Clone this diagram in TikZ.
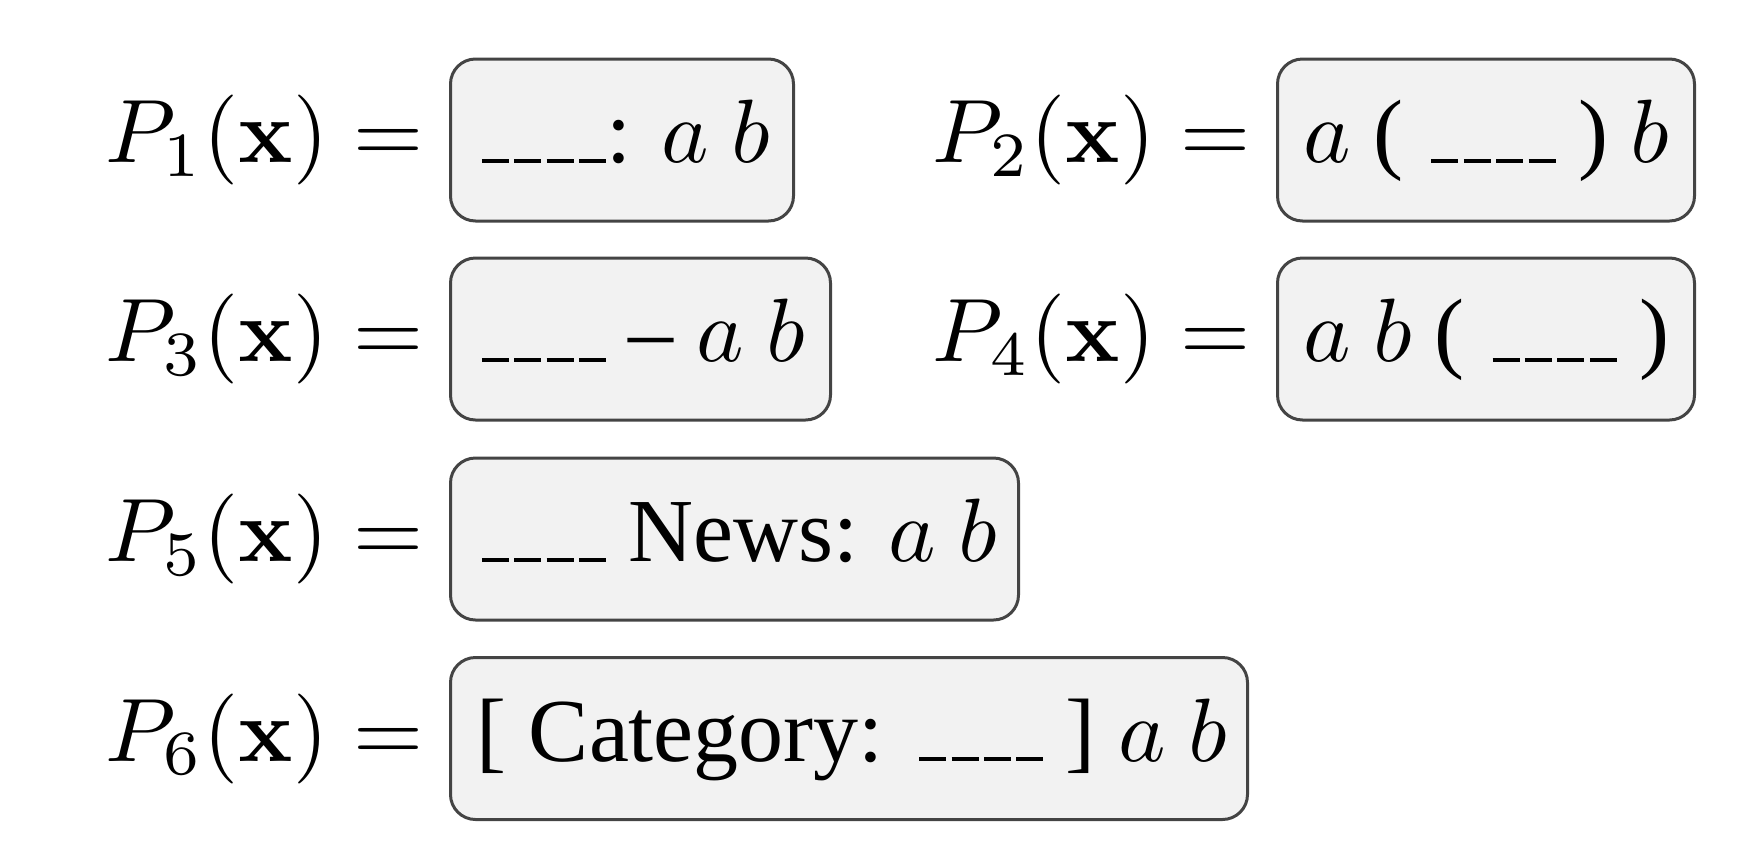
\documentclass[tikz,border=0pt]{standalone}
\usepackage[no-math]{fontspec}
\newfontfamily\tnr{Liberation Serif}
\definecolor{boxfill}{HTML}{F2F2F2}
\definecolor{boxline}{HTML}{444444}
\newcommand\myblank{\leavevmode\kern.06em\vbox{\hrule width.3em}}
\newcommand\myblanks{\myblank\myblank\myblank\myblank}
\newcommand\boxtext[2]{\makebox[#1][l]{\scalebox{4.5}{\tnr\fontsize{10}{12}\selectfont #2}}}
\newcommand\labtext[1]{\scalebox{4.5}{\fontsize{10}{12}\selectfont $#1$}}
\begin{document}
\begin{tikzpicture}[x=0.5pt,y=-0.5pt]
\tikzset{
  tbox/.style={draw=boxline, fill=boxfill, line width=1.5pt, rounded corners=12.5pt,
    inner xsep=13pt, inner ysep=0pt, minimum height=81pt,
    text height=33.75pt, text depth=11.25pt, anchor=west},
  lab/.style={anchor=base east, inner sep=0pt}
}
\useasboundingbox (0,0) rectangle (1762,852);
\node[tbox] (b1) at (449,140) {\boxtext{145.5pt}{\myblanks: $a$ $b$}};
\node[tbox] (b2) at (1276,140) {\boxtext{182.5pt}{$a$ ( \myblanks{} ) $b$}};
\node[tbox] (b3) at (449,339) {\boxtext{164pt}{\myblanks{} – $a$ $b$}};
\node[tbox] (b4) at (1276,339) {\boxtext{182.5pt}{$a$ $b$ ( \myblanks{} )}};
\node[tbox] (b5) at (449,539) {\boxtext{258pt}{\myblanks{} News: $a$ $b$}};
\node[tbox] (b6) at (449,738.5) {\boxtext{372.5pt}{[ Category: \myblanks{} ] $a$ $b$}};
\node[lab] (l1) at ([xshift=-12.5pt]b1.base west) {\labtext{P_1(\mathbf{x}) =}};
\node[lab] (l2) at ([xshift=-12.5pt]b2.base west) {\labtext{P_2(\mathbf{x}) =}};
\node[lab] (l3) at ([xshift=-12.5pt]b3.base west) {\labtext{P_3(\mathbf{x}) =}};
\node[lab] (l4) at ([xshift=-12.5pt]b4.base west) {\labtext{P_4(\mathbf{x}) =}};
\node[lab] (l5) at ([xshift=-12.5pt]b5.base west) {\labtext{P_5(\mathbf{x}) =}};
\node[lab] (l6) at ([xshift=-12.5pt]b6.base west) {\labtext{P_6(\mathbf{x}) =}};
\end{tikzpicture}
\end{document}
